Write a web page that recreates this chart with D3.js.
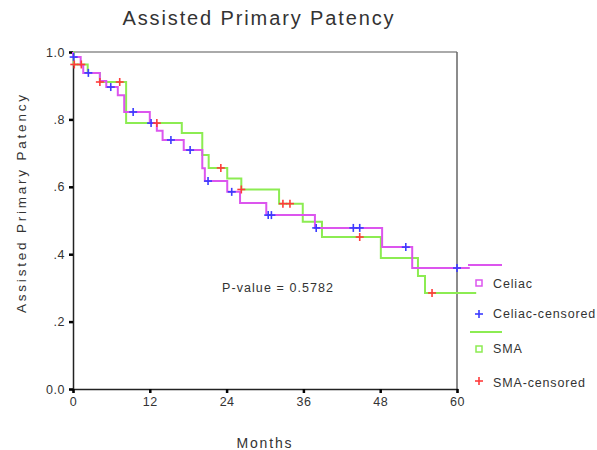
<html>
<head>
  <script src="https://d3js.org/d3.v7.min.js"></script>
  <style>
    body { margin: 0; background: #fff; }
    text { font-family: "Liberation Sans", Arial, sans-serif; fill: #333; }
  </style>
</head>
<body>
<script>
    // Kaplan-Meier steps (months, survival after the drop)
    var celiacTimes = [0, 1.2, 1.6, 4.2, 5.2, 7.0, 8.0, 12.0, 13.1, 14.0, 17.3, 20.2, 20.6, 24.1, 26.1, 30.2, 37.8, 48.3, 53.0];
    var celiacSurv  = [0.985, 0.961, 0.938, 0.914, 0.896, 0.872, 0.822, 0.789, 0.766, 0.739, 0.709, 0.655, 0.617, 0.585, 0.552, 0.516, 0.478, 0.421, 0.359];
    var celiacEnd = 62;
    var celiacCensored = [0.1, 2.4, 5.9, 9.4, 12.2, 15.3, 18.3, 21.1, 24.8, 30.5, 31.0, 38.0, 43.8, 44.8, 52.0, 60.0];

    var smaTimes = [0.1, 2.3, 4.2, 8.3, 17.0, 20.2, 21.2, 24.1, 26.3, 32.2, 35.9, 38.9, 48.1, 53.9, 55.0];
    var smaSurv  = [0.963, 0.938, 0.911, 0.789, 0.760, 0.694, 0.656, 0.625, 0.592, 0.550, 0.496, 0.451, 0.389, 0.335, 0.285];
    var smaEnd = 63;
    var smaCensored = [0.2, 1.3, 4.2, 7.3, 13.1, 23.1, 26.3, 32.8, 33.9, 44.8, 56.1];

    var xTicks = [0, 12, 24, 36, 48, 60];
    var yTicks = [0, 0.2, 0.4, 0.6, 0.8, 1.0];
    var yTickLabels = ["0.0", ".2", ".4", ".6", ".8", "1.0"];
    var legendLabels = ["Celiac", "Celiac-censored", "SMA", "SMA-censored"];

    const W = 597, H = 450;
    const celiacColor = "#dc55ee", smaColor = "#8cec52";
    const celiacCensColor = "#3b3bff", smaCensColor = "#ff3b3b";

    var svg = d3.select("body").append("svg").attr("width", W).attr("height", H);

    var x = d3.scaleLinear().domain([0, 60]).range([73, 457]);
    var y = d3.scaleLinear().domain([0, 1]).range([389, 52]);

    // frame: top and right lines
    svg.append("line").attr("x1", 73).attr("x2", 457).attr("y1", 52).attr("y2", 52)
       .attr("stroke", "#aaa").attr("stroke-width", 2);
    svg.append("line").attr("x1", 457).attr("x2", 457).attr("y1", 52).attr("y2", 389)
       .attr("stroke", "#666").attr("stroke-width", 1.5);

    // axes
    var yAxis = svg.append("g").attr("transform", "translate(73,0)")
       .call(d3.axisLeft(y).tickValues(yTicks).tickFormat((d, i) => yTickLabels[i]).tickSize(4).tickPadding(4));
    var xAxis = svg.append("g").attr("transform", "translate(0,389)")
       .call(d3.axisBottom(x).tickValues(xTicks).tickSize(4).tickPadding(4));
    [xAxis, yAxis].forEach(g => {
      g.select(".domain").attr("stroke", "#222").attr("stroke-width", 1.5);
      g.selectAll(".tick line").attr("stroke", "#000").attr("stroke-width", 2.5);
      g.selectAll(".tick text").style("font-size", "12.5px").attr("fill", "#333")
        .style("letter-spacing", "0.5px")
        .style("font-family", "'Liberation Sans', Arial, sans-serif");
    });

    // step curves
    function stepPoints(times, surv, end) {
      var pts = [[0, 1]];
      times.forEach((t, i) => pts.push([t, surv[i]]));
      pts.push([end, surv[surv.length - 1]]);
      return pts;
    }
    function survAt(times, surv, t) {
      var s = 1;
      times.forEach((tt, i) => { if (tt <= t) s = surv[i]; });
      return s;
    }
    var line = d3.line().x(p => x(p[0])).y(p => y(p[1])).curve(d3.curveStepAfter);

    svg.append("path").attr("d", line(stepPoints(smaTimes, smaSurv, smaEnd)))
       .attr("fill", "none").attr("stroke", smaColor).attr("stroke-width", 2);
    svg.append("path").attr("d", line(stepPoints(celiacTimes, celiacSurv, celiacEnd)))
       .attr("fill", "none").attr("stroke", celiacColor).attr("stroke-width", 2);

    function plus(g, cx, cy, color) {
      g.append("line").attr("x1", cx - 4).attr("x2", cx + 4).attr("y1", cy).attr("y2", cy)
        .attr("stroke", color).attr("stroke-width", 1.6);
      g.append("line").attr("x1", cx).attr("x2", cx).attr("y1", cy - 4).attr("y2", cy + 4)
        .attr("stroke", color).attr("stroke-width", 1.6);
    }
    var marks = svg.append("g");
    celiacCensored.forEach(t => plus(marks, x(t), y(survAt(celiacTimes, celiacSurv, t)), celiacCensColor));
    smaCensored.forEach(t => plus(marks, x(t), y(survAt(smaTimes, smaSurv, t)), smaCensColor));

    // legend
    var leg = svg.append("g");
    leg.append("line").attr("x1", 468).attr("x2", 502).attr("y1", 265).attr("y2", 265)
       .attr("stroke", celiacColor).attr("stroke-width", 2);
    leg.append("line").attr("x1", 470).attr("x2", 502).attr("y1", 332).attr("y2", 332)
       .attr("stroke", smaColor).attr("stroke-width", 2);
    leg.append("rect").attr("x", 476).attr("y", 280).attr("width", 6).attr("height", 6)
       .attr("fill", "none").attr("stroke", celiacColor).attr("stroke-width", 1.5);
    plus(leg, 479, 314, celiacCensColor);
    leg.append("rect").attr("x", 476).attr("y", 346).attr("width", 6).attr("height", 6)
       .attr("fill", "none").attr("stroke", smaColor).attr("stroke-width", 1.5);
    plus(leg, 479, 381, smaCensColor);
    var legY = [284, 314, 349, 383];
    leg.selectAll("text.lg").data(legendLabels).enter().append("text")
       .attr("x", 493).attr("y", (d, i) => legY[i]).attr("dy", "0.35em")
       .style("font-size", "12.5px").style("letter-spacing", "0.85px").text(d => d);

    // titles
    svg.append("text").attr("x", 258).attr("y", 25).attr("text-anchor", "middle")
       .style("font-size", "20px").attr("fill", "#222")
       .attr("textLength", 271).attr("lengthAdjust", "spacing").text("Assisted Primary Patency");
    svg.append("text").attr("transform", "translate(26,204) rotate(-90)").attr("text-anchor", "middle")
       .style("font-size", "13.5px").attr("textLength", 218).attr("lengthAdjust", "spacing")
       .text("Assisted Primary Patency");
    svg.append("text").attr("x", 264).attr("y", 448).attr("text-anchor", "middle")
       .style("font-size", "14px").attr("textLength", 55).attr("lengthAdjust", "spacing").text("Months");
    svg.append("text").attr("x", 222).attr("y", 292)
       .style("font-size", "12.5px").attr("textLength", 111).attr("lengthAdjust", "spacing")
       .text("P-value = 0.5782");
</script>
</body>
</html>
